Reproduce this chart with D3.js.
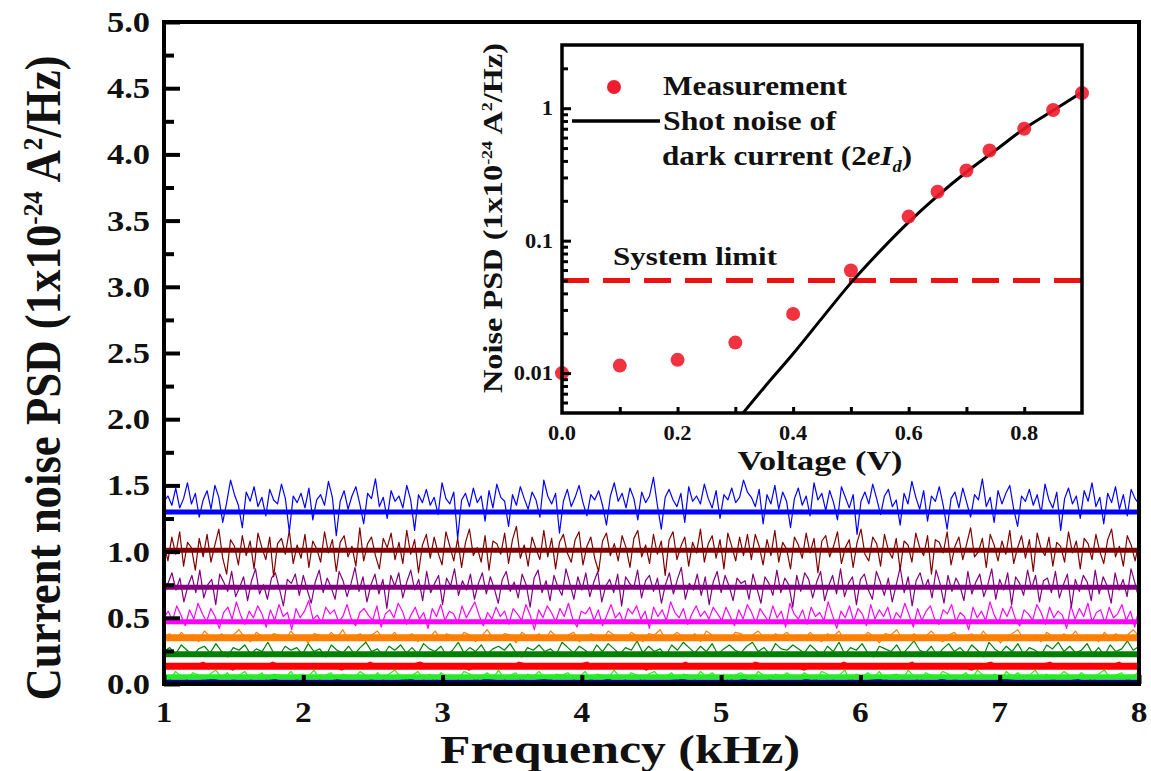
<!DOCTYPE html>
<html><head><meta charset="utf-8">
<script src="https://cdn.jsdelivr.net/npm/d3@7"></script>
<style>
html,body{margin:0;padding:0;background:#fff;}
svg text{font-family:'Liberation Serif','Times New Roman',serif;font-weight:bold;fill:#111;}
</style></head>
<body>
<svg id="c" width="1151" height="771"></svg>
<script>
// ---------------- DATA ----------------
const xTicksMain = [1,2,3,4,5,6,7,8];
const yTicksMain = ["0.0","0.5","1.0","1.5","2.0","2.5","3.0","3.5","4.0","4.5","5.0"];
const seriesNames  = ["blue","brown","purple","magenta","orange","green","red","lime","navy"];
const seriesMeans  = [1.30, 1.01, 0.73, 0.47, 0.35, 0.225, 0.135, 0.055, 0.015];
const seriesColors = ["#0000ff","#800000","#800080","#ff00ff","#ff8000","#008000","#ff0000","#22ee22","#000080"];
// noise deviations in units of 0.01
const blueDev = [8,12,5,18,3,10,22,6,14,-4,9,16,2,20,11,-8,7,24,13,5,
-12,15,8,19,4,11,-3,17,9,6,21,10,-15,12,7,14,3,18,-6,9,
13,5,23,11,-18,8,16,2,12,19,6,-9,14,10,25,4,11,-5,16,8,
12,3,20,9,-14,13,7,17,5,11,-2,22,10,6,15,-20,9,14,4,18,
7,12,-7,16,3,21,11,8,-11,13,5,19,10,2,15,9,-4,24,12,6,
14,-16,8,17,4,11,20,7,-3,13,9,16,5,-10,12,22,8,14,3,18,
10,-6,15,7,12,26,5,-13,11,17,9,4,14,-8,19,8,12,6,21,10,
3,16,-5,13,9,18,7,11,24,15,
11,4,17,-9,13,6,20,2,15,8,-12,10,18,5,12,-3,22,9,14,1,
16,7,-6,19,11,3,13,-17,8,15,6,21,10,-2,12,17,4,9,-10,14,
6,23,11,2,16,-7,12,8,19,5,-13,10,15,3,18,7,-4,13,9,25,
4,11,-8,16,6,14,20,2,-11,12,8,17,5,13,-1,21,9,3,15,-14,
10,18,6,12,-5,16,8,22,4,11,-9,14,7,19,2,13,-3,17,10,6];
const brownDev = [5,-8,10,-3,14,-12,6,2,-15,9,-5,12,-9,4,16,-6,-18,8,3,-11,
11,-4,7,-14,13,2,-7,10,-20,5,9,-3,15,-10,4,-6,12,-13,7,1,
-9,14,-2,8,-16,6,11,-5,3,-12,17,-8,5,10,-4,-14,9,2,13,-7,
6,-10,15,-3,8,-17,4,12,-6,10,-2,-11,14,3,-8,9,-13,6,16,-4,
2,-9,11,-15,7,5,-3,13,-10,8,18,-6,4,-12,10,1,-7,15,-5,9,
-14,6,12,-2,-9,8,14,-11,3,10,-6,-16,7,13,-4,5,-8,11,2,-13,
9,15,-5,4,-10,12,-3,7,-19,8,14,-7,3,10,-12,6,-2,16,-9,5,
11,-6,8,-14,13,3,-8,10,-4,12,
-7,12,3,-11,8,-4,15,-9,6,1,-14,10,4,-6,13,-2,9,-17,7,11,
-5,3,14,-10,2,8,-13,6,16,-3,-8,10,5,-12,12,0,-6,9,-15,7,
4,-9,13,2,-4,11,-18,8,6,-2,14,-11,3,10,-7,5,17,-5,-1,9,
-13,12,4,-8,7,-3,15,-10,2,11,-6,8,-16,13,1,-4,10,-12,6,3,
-9,14,-2,7,-14,9,5,-7,12,-1,-10,8,16,-5,3,-12,11,4,-8,6];
const purpleDev = [-6,3,11,-2,7,-11,1,9,-4,13,-8,2,6,-13,10,4,-3,12,-7,0,
8,-10,5,14,-5,2,-9,7,11,-1,-14,6,3,10,-6,9,-2,-12,4,13,
-4,7,0,-9,12,5,-7,3,15,-3,8,-11,2,10,-5,6,-16,9,1,11,
-8,4,13,-2,6,-10,12,-4,3,9,-13,7,1,14,-6,5,-2,10,-9,3,
11,-5,8,-1,-12,6,12,-3,4,-8,10,2,-15,7,13,-4,5,-10,9,0,
-6,14,3,-9,8,-2,11,-7,4,12,-11,1,6,-4,10,-14,8,3,-1,13,
-8,5,9,-3,7,-12,2,11,-5,6,15,-9,3,-2,10,-6,8,-13,4,12,
-4,9,1,-10,7,3,
5,-9,10,-1,-12,8,3,-6,13,-4,7,2,-15,9,-3,11,6,-8,4,12,
-10,1,9,-5,14,-7,3,8,-13,6,10,-2,-9,12,4,-6,7,-11,2,15,
-4,8,-14,5,11,-1,6,-8,13,3,-12,9,-3,7,1,-10,12,-5,4,10,
-7,2,14,-9,6,-2,11,-13,8,3,-6,13,-1,9,-11,5,7,-4,12,-8,
2,10,-15,6,-3,9,4,-10,13,-5,8,1,-12,11,-2,6,-7,14,3,-9];
const magentaDev = [3,8,1,12,5,-3,9,2,14,6,0,10,4,-5,7,11,2,15,5,-2,
8,3,12,6,-4,9,1,13,4,7,-6,10,3,8,16,2,5,-1,11,6,
9,0,4,13,2,-3,7,10,5,1,12,-4,6,9,3,14,8,-2,5,11,
2,7,-5,10,4,13,1,8,6,-1,12,3,9,15,5,-3,7,2,11,4,
8,-2,10,6,1,13,5,-6,9,3,12,7,0,10,4,14,2,-4,8,6,
11,1,9,-3,5,13,3,7,-1,10,6,12,2,8,-5,11,4,9,1,15,
7,3,10,-2,6,12,4,8,2,11,
6,1,11,4,-3,9,2,13,7,-1,10,5,0,12,3,8,-4,14,6,2,
9,-2,11,4,7,1,15,5,-5,8,3,12,0,10,6,-3,13,2,9,4,
11,-1,7,3,14,5,-4,10,1,8,12,2,-2,9,6,13,0,7,4,-6,
11,3,8,1,15,5,-1,10,4,12,2,-3,9,6,1,13,7,-2,11,3,
8,5,-5,12,2,10,4,14,0,7,9,-1,11,3,6,13,1,8,-4,10];
const orangeDev = [1,3,-2,4,0,2,-3,5,1,-1,3,-2,2,6,0,-3,4,1,-1,3,
2,-2,5,0,1,-4,3,2,-1,4,0,6,-2,1,3,-3,2,5,-1,0,
4,-2,1,3,-3,2,0,5,-1,3,1,-2,4,2,-3,1,6,0,-1,3,
2,-4,4,1,0,3,-2,5,1,-1,2,4,-3,0,3,1,-2,5,2,0,
-1,4,1,-3,3,2,6,-2,1,4,0,-1,3,-3,5,2,0,1,-2,4,
3,-1,2,5,0,-2,3,1,4,-1,
2,-1,4,0,-3,3,1,5,-2,2,0,-1,4,1,-4,3,2,6,-1,0,
3,-2,1,5,0,-3,2,4,-1,1,3,-2,5,0,2,-4,1,3,6,-1,
0,2,-3,4,1,-1,3,0,5,-2,2,1,-3,4,0,3,-1,2,6,1];
const greenDev = [2,5,0,7,3,-1,4,6,1,8,2,-2,5,3,7,0,4,2,9,1,
-1,6,3,5,0,8,2,4,-2,7,3,1,6,0,5,9,2,4,-1,6,
3,7,1,5,0,8,4,2,6,-1,3,9,1,5,2,7,0,4,6,3,
8,1,-2,5,3,7,2,4,0,9,5,1,6,3,-1,7,2,8,4,0,
5,3,10,1,6,2,4,-1,7,3,9,5,1,6,2,8,0,4,7,3,
1,6,9,2,5,0,8,4,3,7,
4,1,7,3,-1,6,2,9,0,5,3,8,1,-2,6,4,2,7,0,5,
10,3,1,6,-1,4,8,2,5,0,7,3,-2,9,4,1,6,2,8,0,
5,3,-1,7,4,9,2,6,1,3,8,0,5,-1,7,2,4,10,3,6];
const redDev = [1,-2,2,0,3,-1,1,-3,2,1,-1,3,0,-2,2,1,-1,2,-3,1,
0,3,-1,2,-2,1,3,0,-1,2,1,-3,2,0,1,-2,3,1,-1,0,
2,-1,1,3,-2,0,2,-1,1,-3,2,1,0,3,-2,1,-1,2,0,-2,
3,1,-1,2,0,-3,1,2,-1,3,0,-2,1,2,-1,0,3,-2,1,-1,
2,0,-3,1,3,-1,2,0,-2,1,3,-1,0,2,-2,1,0,3,-1,2];
const limeDev = [2,-3,4,0,-2,3,1,-4,2,5,-1,3,-3,1,4,-2,0,3,-4,2,
1,-1,4,-3,2,0,5,-2,1,3,-4,2,0,-1,4,1,-3,3,-2,2,
5,0,-3,1,4,-2,2,-4,3,0,1,-2,4,2,-3,0,3,-1,5,-2,
1,3,-4,2,0,4,-1,-3,2,1,3,-2,0,4,-3,2,1,-1,5,0,
-2,3,1,-4,2,4,-1,0,3,-3,2,1,-2,4,0,3,-1,2,-4,1,
3,0,-2,4,1,-3,2,0,3,-1,
-1,3,0,-3,4,2,-2,1,5,-4,2,0,3,-1,4,-3,1,2,-2,5,
0,-4,3,1,-1,4,2,-3,0,3,-2,5,1,-1,2,-4,4,0,3,-2,
1,5,-1,2,-3,0,4,1,-2,3,0,-4,2,5,-1,1,3,-3,0,4];
const navyDev = [1,0,-1,1,2,0,-1,1,0,2,-1,0,1,-1,2,0,1,-1,0,1,
2,-1,0,1,0,-1,2,1,-1,0,1,2,0,-1,1,0,2,-1,1,0,
-1,1,2,0,-1,1,0,2,-1,0,1,-1,2,0,1,0,-1,1,2,-1,
0,1,-1,2,0,1,-1,0,2,1,0,-1,1,0,2,-1,0,1,-1,1];
const seriesDevs = [blueDev,brownDev,purpleDev,magentaDev,orangeDev,greenDev,redDev,limeDev,navyDev];

// inset data
const measV   = [0.0, 0.1, 0.2, 0.3, 0.4, 0.5, 0.6, 0.65, 0.7, 0.74, 0.8, 0.85, 0.9];
const measPSD = [0.0100, 0.0114, 0.0126, 0.0170, 0.0280, 0.0596, 0.152, 0.234, 0.339, 0.479, 0.70, 0.97, 1.30];
const shotV   = [0.31, 0.35, 0.40, 0.45, 0.50, 0.55, 0.60, 0.65, 0.70, 0.75, 0.80, 0.85, 0.90];
const shotPSD = [0.0048, 0.0078, 0.0140, 0.0260, 0.0480, 0.083, 0.138, 0.218, 0.330, 0.480, 0.700, 0.960, 1.32];
const systemLimit = 0.05;
const insetXTicks = ["0.0","0.2","0.4","0.6","0.8"];
const insetYTicks = ["0.01","0.1","1"];

// ---------------- DRAW ----------------
const svg = d3.select("#c");
function stretch(sel, f){ sel.each(function(){ const L=this.getComputedTextLength(); d3.select(this).attr("textLength",L*f).attr("lengthAdjust","spacingAndGlyphs"); }); return sel; }

const M = {l:164, r:1139, t:22, b:684};
const x = d3.scaleLinear().domain([1,8]).range([M.l,M.r]);
const y = d3.scaleLinear().domain([0,5]).range([M.b,M.t]);

svg.append("clipPath").attr("id","mainclip").append("rect")
  .attr("x",M.l).attr("y",M.t).attr("width",M.r-M.l).attr("height",M.b-M.t);

const traces = svg.append("g").attr("clip-path","url(#mainclip)");
const order = d3.range(seriesNames.length).reverse();
order.forEach(i=>{
  const dev = seriesDevs[i];
  const n = dev.length;
  const pts = dev.map((d,k)=>[1 + 7*k/(n-1), seriesMeans[i] + d/100]);
  traces.append("path").datum(pts)
    .attr("fill","none").attr("stroke",seriesColors[i]).attr("stroke-width",1.2)
    .attr("stroke-linejoin","round")
    .attr("d", d3.line().x(d=>x(d[0])).y(d=>y(d[1])));
});
const thick = [5,5,5,5,7,6,7,5,5];
order.forEach(i=>{
  traces.append("line").attr("x1",x(1)).attr("x2",x(8))
    .attr("y1",y(seriesMeans[i])).attr("y2",y(seriesMeans[i]))
    .attr("stroke",seriesColors[i]).attr("stroke-width",thick[i]);
});

// main axes
const yAx = svg.append("g").attr("transform",`translate(${M.l},0)`)
  .call(d3.axisRight(y).tickValues(yTicksMain.map(Number)).tickSize(16).tickFormat(""));
const yMinor = svg.append("g").attr("transform",`translate(${M.l},0)`)
  .call(d3.axisRight(y).tickValues(d3.range(0.25,5,0.5)).tickSize(10).tickFormat(""));
const xAx = svg.append("g").attr("transform",`translate(0,${M.b})`)
  .call(d3.axisTop(x).tickValues(xTicksMain).tickSize(9).tickFormat(""));
[yAx,yMinor,xAx].forEach(g=>{ g.select(".domain").remove(); g.selectAll("line").attr("stroke","#000").attr("stroke-width",4); });
svg.append("rect").attr("x",M.l).attr("y",M.t).attr("width",M.r-M.l).attr("height",M.b-M.t)
  .attr("fill","none").attr("stroke","#000").attr("stroke-width",4);

stretch(svg.append("g").selectAll("text").data(yTicksMain).join("text")
  .attr("x",150).attr("y",d=>y(+d)+10).attr("text-anchor","end")
  .attr("font-size",30).text(d=>d), 1.15);
stretch(svg.append("g").selectAll("text").data(xTicksMain).join("text")
  .attr("x",d=>x(d)).attr("y",722).attr("text-anchor","middle")
  .attr("font-size",29).text(d=>d), 1.15);

svg.append("text").attr("x",620).attr("y",763).attr("text-anchor","middle")
  .attr("font-size",40).attr("textLength",360).attr("lengthAdjust","spacingAndGlyphs")
  .text("Frequency (kHz)");

const yl = svg.append("text").attr("transform","translate(60,378) rotate(-90)")
  .attr("text-anchor","middle").attr("font-size",50)
  .attr("textLength",645).attr("lengthAdjust","spacingAndGlyphs");
yl.append("tspan").text("Current noise PSD (1x10");
yl.append("tspan").attr("dy",-18).attr("font-size",28).text("-24");
yl.append("tspan").attr("dy",18).text(" A");
yl.append("tspan").attr("dy",-18).attr("font-size",28).text("2");
yl.append("tspan").attr("dy",18).text("/Hz)");

// ---------------- INSET ----------------
const I = {l:562, r:1082, t:45, b:413};
const xi = d3.scaleLinear().domain([0,0.9]).range([I.l,I.r]);
const yi = d3.scaleLog().domain([0.005,3]).range([I.b,I.t]);

svg.append("clipPath").attr("id","insclip").append("rect")
  .attr("x",I.l).attr("y",I.t).attr("width",I.r-I.l).attr("height",I.b-I.t);

const ig = svg.append("g");
ig.append("line").attr("x1",I.l).attr("x2",I.r).attr("y1",yi(systemLimit)).attr("y2",yi(systemLimit))
  .attr("stroke","#ee1111").attr("stroke-width",5).attr("stroke-dasharray","27,14");

ig.append("path").datum(shotV.map((v,k)=>[v,shotPSD[k]]))
  .attr("clip-path","url(#insclip)")
  .attr("fill","none").attr("stroke","#000").attr("stroke-width",3)
  .attr("d", d3.line().x(d=>xi(d[0])).y(d=>yi(d[1])).curve(d3.curveMonotoneX));

ig.selectAll("circle").data(measV).join("circle")
  .attr("cx",d=>xi(d)).attr("cy",(d,k)=>yi(measPSD[k])).attr("r",7)
  .attr("fill","#ee1c2c").attr("fill-opacity",0.9);

const iyMaj = ig.append("g").attr("transform",`translate(${I.l},0)`)
  .call(d3.axisRight(yi).tickValues(insetYTicks.map(Number)).tickSize(9).tickFormat(""));
const minors = [];
[0.001,0.01,0.1,1].forEach(dec=>{ for(let m=2;m<=9;m++){ const v=dec*m; if(v>0.005&&v<3) minors.push(v);} });
const iyMin = ig.append("g").attr("transform",`translate(${I.l},0)`)
  .call(d3.axisRight(yi).tickValues(minors).tickSize(6).tickFormat(""));
const ixAx = ig.append("g").attr("transform",`translate(0,${I.b})`)
  .call(d3.axisTop(xi).tickValues(d3.range(0.1,0.85,0.1)).tickSize(6).tickFormat(""));
[iyMaj,iyMin,ixAx].forEach(g=>{ g.select(".domain").remove(); g.selectAll("line").attr("stroke","#000").attr("stroke-width",3); });
ig.append("rect").attr("x",I.l).attr("y",I.t).attr("width",I.r-I.l).attr("height",I.b-I.t)
  .attr("fill","none").attr("stroke","#000").attr("stroke-width",3.5);

stretch(ig.append("g").selectAll("text").data(insetXTicks).join("text")
  .attr("x",d=>xi(+d)).attr("y",440).attr("text-anchor","middle")
  .attr("font-size",20).text(d=>d), 1.12);
stretch(ig.append("g").selectAll("text").data(insetYTicks).join("text")
  .attr("x",553).attr("y",d=>yi(+d)+7).attr("text-anchor","end")
  .attr("font-size",20).text(d=>d), 1.12);

ig.append("text").attr("x",820).attr("y",470).attr("text-anchor","middle")
  .attr("font-size",27).attr("textLength",165).attr("lengthAdjust","spacingAndGlyphs")
  .text("Voltage (V)");

const iyl = ig.append("text").attr("transform","translate(502,218) rotate(-90)")
  .attr("text-anchor","middle").attr("font-size",27)
  .attr("textLength",350).attr("lengthAdjust","spacingAndGlyphs");
iyl.append("tspan").text("Noise PSD (1x10");
iyl.append("tspan").attr("dy",-10).attr("font-size",15).text("-24");
iyl.append("tspan").attr("dy",10).text(" A");
iyl.append("tspan").attr("dy",-10).attr("font-size",15).text("2");
iyl.append("tspan").attr("dy",10).text("/Hz)");

// legend
ig.append("circle").attr("cx",614).attr("cy",87).attr("r",7).attr("fill","#ee1c2c");
ig.append("text").attr("x",663).attr("y",95).attr("font-size",27)
  .attr("textLength",184).attr("lengthAdjust","spacingAndGlyphs").text("Measurement");
ig.append("line").attr("x1",572).attr("x2",660).attr("y1",121).attr("y2",121)
  .attr("stroke","#000").attr("stroke-width",3.5);
ig.append("text").attr("x",663).attr("y",130).attr("font-size",27)
  .attr("textLength",173).attr("lengthAdjust","spacingAndGlyphs").text("Shot noise of");
const dk = ig.append("text").attr("x",662).attr("y",165).attr("font-size",27);
dk.append("tspan").text("dark current (2");
dk.append("tspan").attr("font-style","italic").text("eI");
dk.append("tspan").attr("font-size",16).attr("font-style","italic").attr("dy",7).text("d");
dk.append("tspan").attr("dy",-7).text(")");
stretch(dk,1.15);
ig.append("text").attr("x",613).attr("y",265).attr("font-size",26)
  .attr("textLength",164).attr("lengthAdjust","spacingAndGlyphs").text("System limit");
</script>
</body></html>
